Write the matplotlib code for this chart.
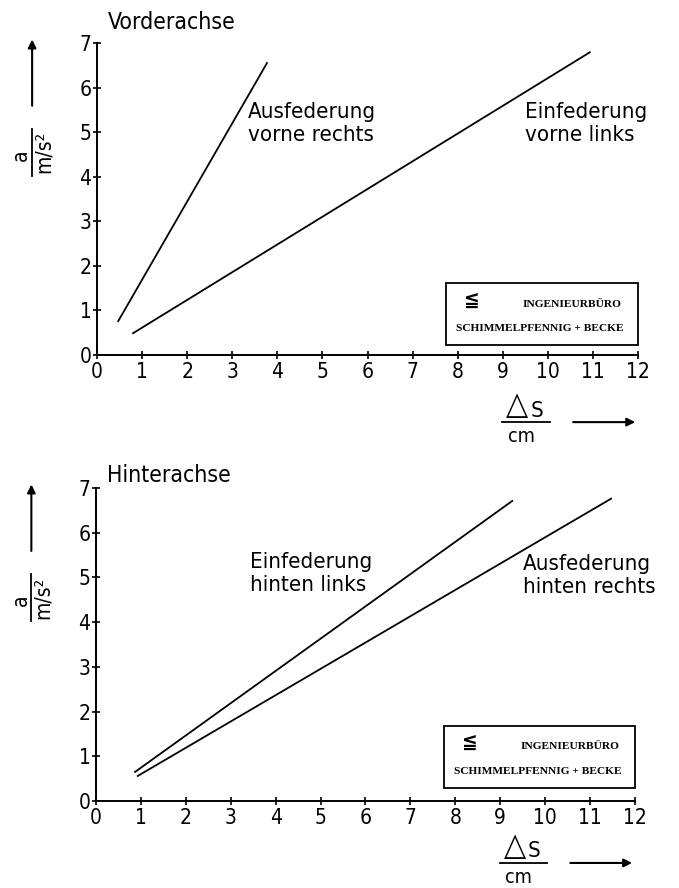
import matplotlib
matplotlib.use("Agg")
import matplotlib.pyplot as plt
from matplotlib.patches import Rectangle

plt.rcParams['font.family'] = ['DejaVu Sans']
plt.rcParams['font.stretch'] = 'condensed'

# Vorderachse: Beschleunigung a [m/s^2] ueber Federweg dS [cm]
vorne_aus_x = [0.47, 3.77]
vorne_aus_y = [0.76, 6.55]
vorne_ein_x = [0.80, 10.93]
vorne_ein_y = [0.49, 6.79]

# Hinterachse
hinten_ein_x = [0.87, 9.27]
hinten_ein_y = [0.65, 6.71]
hinten_aus_x = [0.93, 11.47]
hinten_aus_y = [0.56, 6.76]

x_ticks = list(range(0, 13))
y_ticks = list(range(0, 8))


def stempel(ax, x0, y0):
    # Firmenstempel unten rechts
    ax.add_patch(Rectangle((x0, y0), 4.26, 1.39, fill=False, lw=1.3,
                           ec='black', clip_on=False))
    ax.text(x0 + 0.57, y0 + 1.0, '≦', fontsize=15, fontweight='bold',
            ha='center', va='center')
    ax.text(x0 + 3.9, y0 + 0.92, 'INGENIEURBÜRO', family='Liberation Serif',
            fontweight='bold', fontsize=8.2, ha='right', va='center')
    ax.text(x0 + 2.08, y0 + 0.38, 'SCHIMMELPFENNIG + BECKE',
            family='Liberation Serif', fontweight='bold', fontsize=8.2,
            ha='center', va='center')


def achsen(ax, titel, title_y, xl_y):
    ax.set_xlim(0, 12)
    ax.set_ylim(0, 7)
    ax.spines['top'].set_visible(False)
    ax.spines['right'].set_visible(False)
    ax.spines['left'].set_linewidth(1.4)
    ax.spines['bottom'].set_linewidth(1.4)
    ax.set_xticks(x_ticks)
    ax.set_yticks(y_ticks)
    ax.tick_params(direction='inout', length=6, width=1.2, labelsize=15)
    ax.tick_params(axis='y', pad=1)
    ax.tick_params(axis='x', pad=2)
    ax.text(0.02, title_y, titel, transform=ax.transAxes, fontsize=16.5,
            ha='left', va='center')
    tr = ax.transAxes

    # y-Achsenbeschriftung a / (m/s^2) als Bruch, mit Pfeil
    ax.text(-0.140, 0.64, 'a', transform=tr, rotation=90, fontsize=15,
            ha='center', va='center')
    ax.plot([-0.120, -0.120], [0.575, 0.725], transform=tr, color='black',
            lw=1.3, clip_on=False)
    ax.text(-0.098, 0.65, 'm/s²', transform=tr, rotation=90, fontsize=15,
            ha='center', va='center')
    ax.annotate('', xy=(-0.120, 1.02), xytext=(-0.120, 0.79),
                xycoords='axes fraction',
                arrowprops=dict(arrowstyle='-|>', lw=1.5, color='black',
                                mutation_scale=12))

    # x-Achsenbeschriftung dS / cm als Bruch, mit Pfeil
    ax.text(0.777, xl_y + 0.054, '△', transform=tr, fontsize=23,
            ha='center', va='center')
    ax.text(0.813, xl_y + 0.037, 'S', transform=tr, fontsize=16,
            ha='center', va='center')
    ax.plot([0.749, 0.837], [xl_y, xl_y], transform=tr, color='black',
            lw=1.3, clip_on=False)
    ax.text(0.784, xl_y - 0.046, 'cm', transform=tr, fontsize=14,
            ha='center', va='center')
    ax.annotate('', xy=(1.0, xl_y), xytext=(0.875, xl_y),
                xycoords='axes fraction',
                arrowprops=dict(arrowstyle='-|>', lw=1.5, color='black',
                                mutation_scale=12))


fig = plt.figure(figsize=(6.79, 8.88), dpi=100)
ax1 = fig.add_axes([0.1429, 0.6002, 0.7967, 0.3514])
ax2 = fig.add_axes([0.1414, 0.0980, 0.7936, 0.3525])

# oben: Vorderachse
ax1.plot(vorne_aus_x, vorne_aus_y, color='black', lw=1.3)
ax1.plot(vorne_ein_x, vorne_ein_y, color='black', lw=1.3)
ax1.text(3.35, 5.2, 'Ausfederung\nvorne rechts', fontsize=16,
         ha='left', va='center', linespacing=1.2)
ax1.text(9.49, 5.2, 'Einfederung\nvorne links', fontsize=16,
         ha='left', va='center', linespacing=1.2)
achsen(ax1, 'Vorderachse', 1.067, -0.215)
stempel(ax1, 7.74, 0.22)

# unten: Hinterachse
ax2.plot(hinten_ein_x, hinten_ein_y, color='black', lw=1.3)
ax2.plot(hinten_aus_x, hinten_aus_y, color='black', lw=1.3)
ax2.text(3.43, 5.08, 'Einfederung\nhinten links', fontsize=16,
         ha='left', va='center', linespacing=1.2)
ax2.text(9.51, 5.05, 'Ausfederung\nhinten rechts', fontsize=16,
         ha='left', va='center', linespacing=1.2)
achsen(ax2, 'Hinterachse', 1.041, -0.198)
stempel(ax2, 7.75, 0.29)

fig.savefig('out.png', dpi=100)
